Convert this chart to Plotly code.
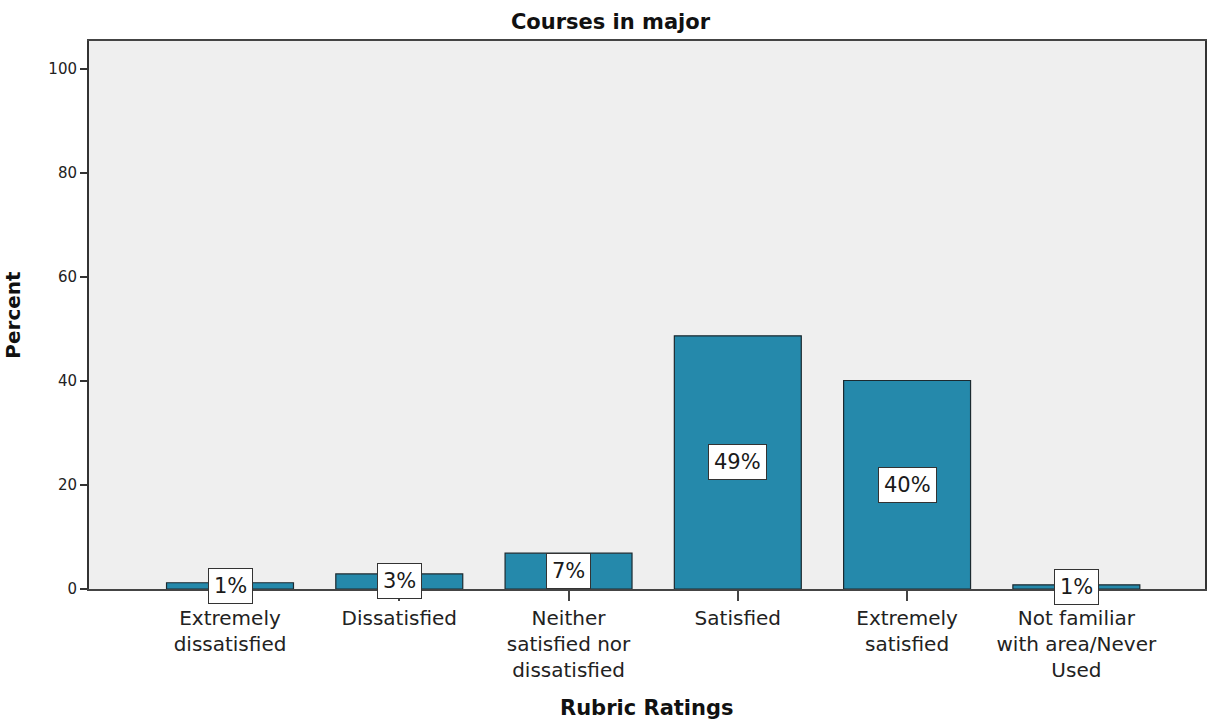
import plotly.graph_objects as go

categories = [
    "Extremely<br>dissatisfied",
    "Dissatisfied",
    "Neither<br>satisfied nor<br>dissatisfied",
    "Satisfied",
    "Extremely<br>satisfied",
    "Not familiar<br>with area/Never<br>Used",
]
percent_values = [1.2, 2.9, 6.9, 48.7, 40.1, 0.8]
percent_labels = ["1%", "3%", "7%", "49%", "40%", "1%"]
y_tick_values = [0, 20, 40, 60, 80, 100]

FONT = "DejaVu Sans"
W, H = 1221, 725
ML, MR, MT, MB = 89, 16, 41, 136
plot_h = H - MT - MB

fig = go.Figure()
fig.add_trace(go.Bar(
    x=categories,
    y=percent_values,
    width=0.75,
    marker=dict(color="#2589ab", line=dict(color="#1c2a30", width=1.2)),
    hoverinfo="skip",
))

for cat, val, lab in zip(categories, percent_values, percent_labels):
    fig.add_annotation(
        x=cat, y=val / 2, xref="x", yref="y",
        text=lab, showarrow=False,
        font=dict(family=FONT, size=21, color="#1a1a1a"),
        bgcolor="white", bordercolor="#333333", borderwidth=1, borderpad=5,
    )

# x-axis title placed at its position below the multi-line category labels
fig.add_annotation(
    x=0.5, y=-(708 - (H - MB)) / plot_h, xref="paper", yref="paper",
    text="<b>Rubric Ratings</b>", showarrow=False,
    xanchor="center", yanchor="middle",
    font=dict(family=FONT, size=21, color="#111111"),
)

fig.update_layout(
    width=W, height=H,
    margin=dict(l=ML, r=MR, t=MT, b=MB, autoexpand=False),
    paper_bgcolor="white",
    plot_bgcolor="#efefef",
    showlegend=False,
    title=dict(
        text="<b>Courses in major</b>",
        x=0.5, xref="container", xanchor="center",
        y=1 - 22 / H, yref="container", yanchor="middle",
        font=dict(family=FONT, size=21, color="#111111"),
    ),
    font=dict(family=FONT, color="#222222"),
)

fig.update_xaxes(
    type="category",
    range=[-0.833, 5.76],
    automargin=False,
    showline=True, linecolor="#444444", linewidth=1.5, mirror=True,
    ticks="outside", ticklen=10, tickwidth=1.5, tickcolor="#444444",
    tickfont=dict(family=FONT, size=20, color="#222222"),
    showgrid=False, zeroline=False,
)
fig.update_yaxes(
    range=[0, 105.4],
    automargin=False,
    tickvals=y_tick_values,
    showline=True, linecolor="#333333", linewidth=2, mirror=True,
    ticks="outside", ticklen=7, tickwidth=2, tickcolor="#333333",
    tickfont=dict(family=FONT, size=15, color="#222222"),
    showgrid=False, zeroline=False,
    title=dict(text="<b>Percent</b>", standoff=22,
               font=dict(family=FONT, size=20, color="#111111")),
)

fig.write_html("out.html", config={"displayModeBar": False},
               post_script="document.body.style.margin='0';")
